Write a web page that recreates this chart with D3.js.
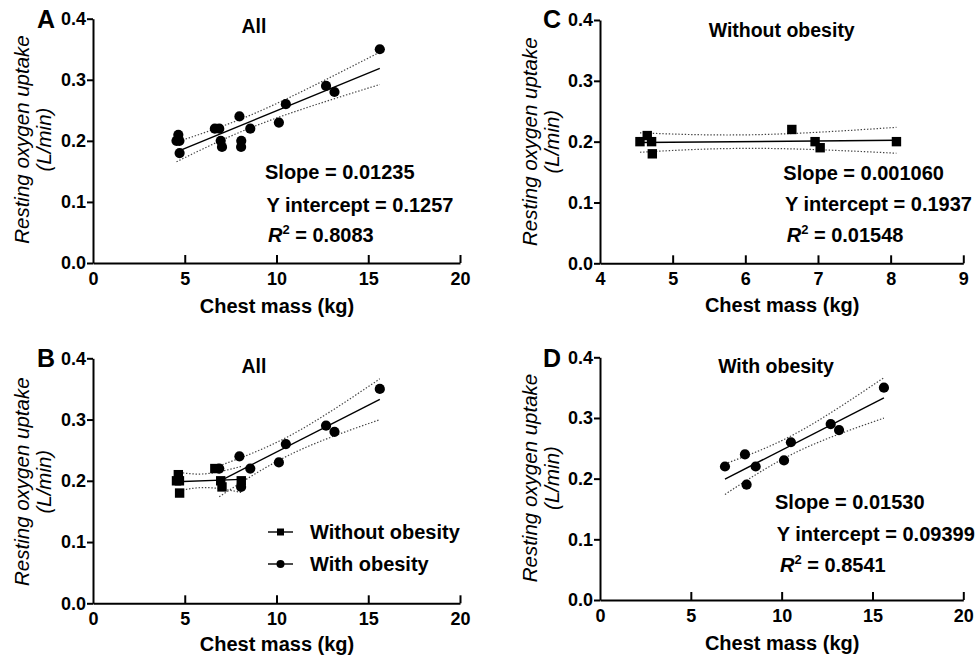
<!DOCTYPE html>
<html>
<head>
<meta charset="utf-8">
<script src="https://cdn.jsdelivr.net/npm/d3@7"></script>
<style>
  body { margin: 0; background: #fff; }
  svg { font-family: 'Liberation Sans', Arial, sans-serif; }
</style>
</head>
<body>
<svg id="chart"></svg>
<script>
// chest mass (kg) and resting VO2 (L/min)
const withoutX = [4.55, 4.65, 4.71, 4.72, 6.64, 6.96, 7.03, 8.08]
const withoutY = [0.20, 0.21, 0.20, 0.18, 0.22, 0.20, 0.19, 0.20]
const withX = [6.88, 7.98, 8.07, 8.57, 10.13, 10.51, 12.70, 13.16, 15.63]
const withY = [0.22, 0.24, 0.19, 0.22, 0.23, 0.26, 0.29, 0.28, 0.35]

// [intercept, slope] as printed on the panels
const fitAll = [0.1257, 0.01235]
const fitWithout = [0.1937, 0.001060]
const fitWith = [0.09399, 0.01530]

// two-sided 95% t for df = n - 2
const tAll = 2.131, tWithout = 2.447, tWith = 2.365

const yTicks = [0, 0.1, 0.2, 0.3, 0.4]
const xTicks20 = [0, 5, 10, 15, 20]
const xTicks49 = [4, 5, 6, 7, 8, 9]

const statsAll = ['Slope = 0.01235', 'Y intercept = 0.1257', '0.8083']
const statsWithout = ['Slope = 0.001060', 'Y intercept = 0.1937', '0.01548']
const statsWith = ['Slope = 0.01530', 'Y intercept = 0.09399', '0.8541']

const legendLabels = ['Without obesity', 'With obesity']

const width = 979, height = 662
const svg = d3.select('#chart').attr('width', width).attr('height', height)

const pts = (xs, ys) => xs.map((x, i) => [x, ys[i]])

// confidence band of the fitted line
const band = (data, fit, t, n) => {
	let mx = d3.mean(data, d => d[0])
	let sxx = d3.sum(data, d => (d[0] - mx) ** 2)
	let ss = d3.sum(data, d => (d[1] - (fit[0] + fit[1] * d[0])) ** 2)
	let s = Math.sqrt(ss / (data.length - 2))
	let [x0, x1] = d3.extent(data, d => d[0])
	let xs = d3.range(n + 1).map(i => x0 + (x1 - x0) * i / n)
	let lo = [], hi = []
	xs.forEach(x => {
		let yh = fit[0] + fit[1] * x
		let e = t * s * Math.sqrt(1 / data.length + (x - mx) ** 2 / sxx)
		lo.push([x, yh - e]); hi.push([x, yh + e])
	})
	return [lo, hi]
}

const panel = cfg => {
	let g = svg.append('g')
	let x = d3.scaleLinear().domain(cfg.xDomain).range([cfg.left, cfg.right])
	let y = d3.scaleLinear().domain([0, 0.4]).range([cfg.bottom, cfg.top])

	let ax = g.append('g')
	.attr('transform', `translate(${cfg.left},0)`)
	.call(d3.axisLeft(y).tickValues(yTicks).tickFormat(d3.format('.1f')).tickSize(6).tickSizeOuter(0).tickPadding(1))
	let bx = g.append('g')
	.attr('transform', `translate(0,${cfg.bottom})`)
	.call(d3.axisBottom(x).tickValues(cfg.xTicks).tickFormat(d3.format('d')).tickSize(-8).tickSizeOuter(0).tickPadding(9))
	bx.selectAll('.tick').filter(d => d === cfg.xDomain[0]).select('line').remove()
	bx.selectAll('.tick text').attr('dy', '0.71em')
	;[ax, bx].forEach(a => {
		a.selectAll('path, line').attr('stroke', '#000').attr('stroke-width', 2)
		a.selectAll('text').attr('fill', '#000').attr('font-size', 18).attr('font-weight', 'bold')
	})

	let line = d3.line().x(d => x(d[0])).y(d => y(d[1]))
	cfg.fits.forEach(f => {
		let [lo, hi] = band(f.data, f.fit, f.t, 80)
		;[lo, hi].forEach(b => g.append('path').attr('d', line(b))
			.attr('fill', 'none').attr('stroke', '#444').attr('stroke-width', 1.2)
			.attr('stroke-dasharray', '1.4,1.8'))
		let ext = d3.extent(f.data, d => d[0])
		g.append('path').attr('d', line(ext.map(v => [v, f.fit[0] + f.fit[1] * v])))
		.attr('fill', 'none').attr('stroke', '#000').attr('stroke-width', 1.4)
	})

	cfg.series.forEach(s => {
		if (s.shape === 'square') {
			g.selectAll(null).data(s.data).enter().append('rect')
			.attr('x', d => x(d[0]) - 4.7).attr('y', d => y(d[1]) - 4.7)
			.attr('width', 9.4).attr('height', 9.4).attr('fill', '#000')
		} else {
			g.selectAll(null).data(s.data).enter().append('circle')
			.attr('cx', d => x(d[0])).attr('cy', d => y(d[1])).attr('r', 5.1).attr('fill', '#000')
		}
	})

	g.append('text').attr('x', cfg.letter[0]).attr('y', cfg.letter[1])
	.attr('font-size', 25).attr('font-weight', 'bold').text(cfg.name)
	g.append('text').attr('x', cfg.title[0]).attr('y', cfg.title[1])
	.attr('text-anchor', 'middle').attr('font-size', 19.5).attr('font-weight', 'bold').text(cfg.title[2])
	g.append('text').attr('x', (cfg.left + cfg.right) / 2 + 0.5).attr('y', cfg.xLabelY)
	.attr('text-anchor', 'middle').attr('font-size', 20).attr('font-weight', 'bold').text('Chest mass (kg)')

	let yt = g.append('text').attr('transform', `translate(${cfg.yLabel[0]},${cfg.yLabel[1]}) rotate(-90)`)
	.attr('text-anchor', 'middle').attr('font-size', 20.5).attr('font-style', 'italic')
	yt.append('tspan').attr('x', 0).attr('y', 0).text('Resting oxygen uptake')
	yt.append('tspan').attr('x', 0).attr('y', 22).text('(L/min)')

	if (cfg.stats) {
		let st = cfg.stats
		let sx = st.x, sy = st.y
		g.append('text').attr('x', sx[0]).attr('y', sy[0]).attr('font-size', 20).attr('font-weight', 'bold').text(st.lines[0])
		g.append('text').attr('x', sx[1]).attr('y', sy[1]).attr('font-size', 20).attr('font-weight', 'bold').text(st.lines[1])
		let r = g.append('text').attr('x', sx[2]).attr('y', sy[2]).attr('font-size', 20).attr('font-weight', 'bold')
		r.append('tspan').attr('font-style', 'italic').text('R')
		r.append('tspan').attr('font-size', 13).attr('dy', -8).text('2')
		r.append('tspan').attr('dy', 8).text(' = ' + st.lines[2])
	}
	return { g, x, y }
}

const noOb = pts(withoutX, withoutY)
const ob = pts(withX, withY)
const all = noOb.concat(ob)

panel({
	name: 'A', left: 93, right: 460, top: 18.7, bottom: 263, xDomain: [0, 20], xTicks: xTicks20,
	letter: [37, 28], title: [254, 33.3, 'All'], xLabelY: 313, yLabel: [29, 139.5],
	series: [{ data: all, shape: 'circle' }],
	fits: [{ data: all, fit: fitAll, t: tAll }],
	stats: { lines: statsAll, x: [265, 266.5, 268], y: [179, 211.5, 241.7] }
})

panel({
	name: 'C', left: 600, right: 963.3, top: 20, bottom: 263.3, xDomain: [4, 9], xTicks: xTicks49,
	letter: [543, 28], title: [781.7, 36.7, 'Without obesity'], xLabelY: 311.7, yLabel: [537, 141.7],
	series: [{ data: noOb, shape: 'square' }],
	fits: [{ data: noOb, fit: fitWithout, t: tWithout }],
	stats: { lines: statsWithout, x: [783.3, 785, 786.7], y: [180, 210.5, 241.7] }
})

let pB = panel({
	name: 'B', left: 93, right: 460, top: 358.3, bottom: 603.3, xDomain: [0, 20], xTicks: xTicks20,
	letter: [37, 367], title: [254, 373, 'All'], xLabelY: 651, yLabel: [29, 481.7],
	series: [{ data: noOb, shape: 'square' }, { data: ob, shape: 'circle' }],
	fits: [{ data: noOb, fit: fitWithout, t: tWithout }, { data: ob, fit: fitWith, t: tWith }]
})

panel({
	name: 'D', left: 600, right: 963.3, top: 357.3, bottom: 600, xDomain: [0, 20], xTicks: xTicks20,
	letter: [543, 367], title: [776, 373.3, 'With obesity'], xLabelY: 650, yLabel: [537, 478],
	series: [{ data: ob, shape: 'circle' }],
	fits: [{ data: ob, fit: fitWith, t: tWith }],
	stats: { lines: statsWith, x: [775, 776.7, 780], y: [509, 540.5, 572] }
})

// legend of panel B
let lg = pB.g.append('g')
legendLabels.forEach((lab, i) => {
	let cy = 532 + i * 32
	lg.append('line').attr('x1', 268).attr('x2', 293).attr('y1', cy).attr('y2', cy)
	.attr('stroke', '#000').attr('stroke-width', 1.4)
	if (i === 0) lg.append('rect').attr('x', 277).attr('y', cy - 3.5).attr('width', 7).attr('height', 7)
	else lg.append('circle').attr('cx', 280.5).attr('cy', cy).attr('r', 4)
	lg.append('text').attr('x', 310).attr('y', cy + 6.5).attr('font-size', 20).attr('font-weight', 'bold').text(lab)
})
</script>
</body>
</html>
